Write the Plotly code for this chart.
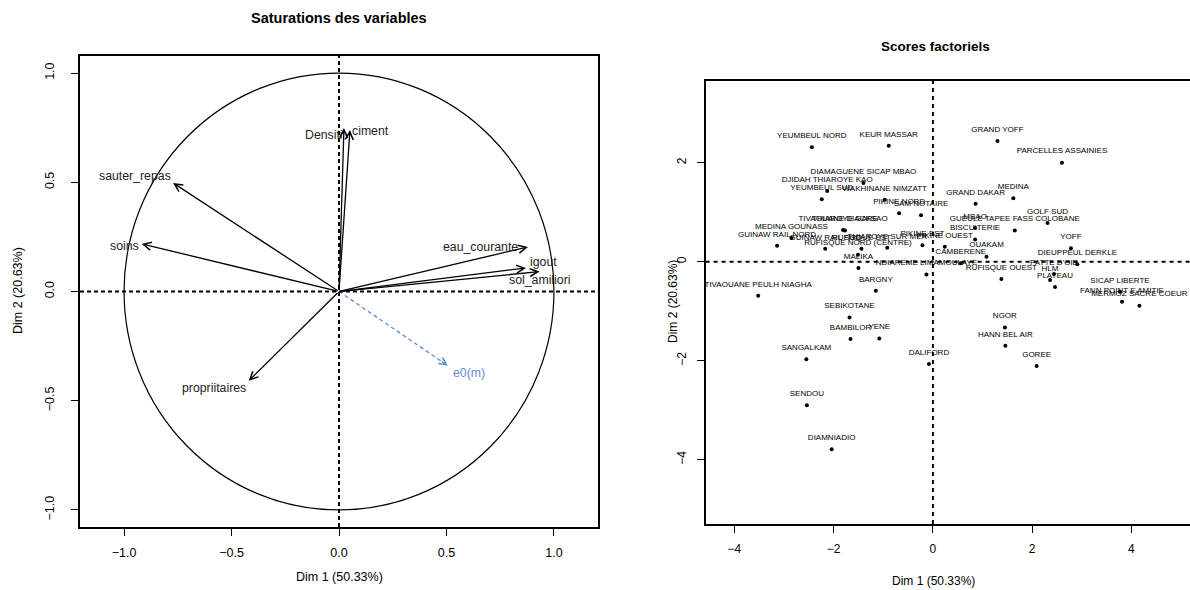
import plotly.graph_objects as go

# ---------------- data ----------------
var_names = ["Densiti", "ciment", "sauter_repas", "soins", "eau_courante",
             "igout", "sol_amiliori", "propriitaires"]
var_dim1 = [0.023, 0.051, -0.772, -0.918, 0.879, 0.870, 0.933, -0.420]
var_dim2 = [0.748, 0.739, 0.497, 0.218, 0.204, 0.108, 0.091, -0.409]

sup_names = ["e0(m)"]
sup_dim1 = [0.506]
sup_dim2 = [-0.339]

ind_names = [
    "GRAND YOFF", "PARCELLES ASSAINIES", "MEDINA", "GRAND DAKAR", "GOLF SUD",
    "GUEULE TAPEE FASS COLOBANE", "MBAO", "BISCUITERIE", "OUAKAM", "CAMBERENE",
    "YOFF", "DIEUPPEUL DERKLE", "PATTE D'OIE", "RUFISQUE OUEST", "HLM",
    "PLATEAU", "SICAP LIBERTE", "FANN POINT E AMITIE", "MERMOZ SACRE COEUR", "NGOR",
    "HANN BEL AIR", "GOREE", "DALIFORD", "NDIAREME LIMAMOULAYE", "MALIKA",
    "BARGNY", "TIVAOUANE PEULH NIAGHA", "SEBIKOTANE", "BAMBILOR", "YENE",
    "SANGALKAM", "SENDOU", "DIAMNIADIO", "YEUMBEUL NORD", "KEUR MASSAR",
    "DIAMAGUENE SICAP MBAO", "DJIDAH THIAROYE KAO", "YEUMBEUL SUD", "WAKHINANE NIMZATT", "PIKINE NORD",
    "SAM NOTAIRE", "TIVAOUANE DIACKSAO", "THIAROYE GARE", "MEDINA GOUNASS", "GUINAW RAIL NORD",
    "GUINAW RAIL SUD", "RUFISQUE EST", "THIAROYE SUR MER", "RUFISQUE NORD (CENTRE)", "PIKINE EST",
    "PIKINE OUEST",
]
ind_dim1 = [
    1.30, 2.60, 1.62, 0.86, 2.31,
    1.65, 0.85, 0.85, 1.08, 0.56,
    2.78, 2.91, 2.44, 1.38, 2.36,
    2.46, 3.77, 3.81, 4.16, 1.45,
    1.46, 2.09, -0.08, -0.13, -1.50,
    -1.15, -3.52, -1.68, -1.66, -1.08,
    -2.55, -2.54, -2.04, -2.44, -0.89,
    -1.40, -2.13, -2.24, -0.97, -0.68,
    -0.24, -1.81, -1.77, -2.85, -3.14,
    -2.17, -1.44, -0.92, -1.51, -0.21,
    0.24,
]
ind_dim2 = [
    2.44, 2.00, 1.28, 1.17, 0.78,
    0.63, 0.68, 0.45, 0.10, -0.03,
    0.27, -0.05, -0.25, -0.35, -0.37,
    -0.51, -0.61, -0.81, -0.89, -1.33,
    -1.70, -2.11, -2.07, -0.26, -0.13,
    -0.59, -0.69, -1.13, -1.56, -1.55,
    -1.97, -2.90, -3.79, 2.31, 2.34,
    1.59, 1.43, 1.26, 1.25, 0.98,
    0.94, 0.64, 0.63, 0.48, 0.32,
    0.26, 0.26, 0.28, 0.14, 0.33,
    0.30,
]

var_ticks = [-1.0, -0.5, 0.0, 0.5, 1.0]
ind_xticks = [-4, -2, 0, 2, 4]
ind_yticks = [-4, -2, 0, 2]

# ---------------- styling ----------------
FONT = "Liberation Sans, Arial, Helvetica, sans-serif"
W, H = 1190, 590
BLUE = "#5b8cd8"

# label offsets (pixels) for variable labels relative to arrow tips
var_label_shift = {
    "Densiti": (-20, -7), "ciment": (21, -1), "sauter_repas": (-38, 7),
    "soins": (-17, -2), "eau_courante": (-47, 0), "igout": (17, 6),
    "sol_amiliori": (0, -8), "propriitaires": (-35, -7),
}
sup_label_shift = {"e0(m)": (21, -7)}


def fmt(v, nd):
    s = f"{v:.{nd}f}"
    return s.replace("-", "\u2212")


fig = go.Figure()

# ---- left panel: supplementary dashed line ----
for n, a, b in zip(sup_names, sup_dim1, sup_dim2):
    fig.add_trace(go.Scatter(x=[0, a], y=[0, b], mode="lines",
                             line=dict(color=BLUE, width=1.3, dash="4px,3px"),
                             xaxis="x", yaxis="y", showlegend=False, hoverinfo="skip"))

# ---- right panel points ----
fig.add_trace(go.Scatter(
    x=ind_dim1, y=ind_dim2, mode="markers",
    marker=dict(size=4, color="black"),
    xaxis="x2", yaxis="y2", showlegend=False, hoverinfo="skip"))
# labels (transparent wider markers push the text a bit higher above the dots)
fig.add_trace(go.Scatter(
    x=ind_dim1, y=ind_dim2, mode="markers+text", text=ind_names,
    textposition="top center",
    textfont=dict(family=FONT, size=8, color="black"),
    marker=dict(size=10, color="rgba(0,0,0,0)"),
    xaxis="x2", yaxis="y2", showlegend=False, hoverinfo="text"))

annotations = []
# arrows for active variables
for n, a, b in zip(var_names, var_dim1, var_dim2):
    annotations.append(dict(x=a, y=b, ax=0, ay=0, xref="x", yref="y", axref="x", ayref="y",
                            text="", showarrow=True, arrowhead=5, arrowsize=1.2,
                            arrowwidth=1.3, arrowcolor="black"))
    dx, dy = var_label_shift[n]
    annotations.append(dict(x=a, y=b, xref="x", yref="y", text=n, showarrow=False,
                            xshift=dx, yshift=dy,
                            font=dict(family=FONT, size=12.3, color="#222222")))
# supplementary heads and labels
for n, a, b in zip(sup_names, sup_dim1, sup_dim2):
    annotations.append(dict(x=a, y=b, ax=a * 0.93, ay=b * 0.93, xref="x", yref="y",
                            axref="x", ayref="y", text="", showarrow=True, arrowhead=5,
                            arrowsize=1.2, arrowwidth=1.2, arrowcolor=BLUE))
    dx, dy = sup_label_shift[n]
    annotations.append(dict(x=a, y=b, xref="x", yref="y", text=n, showarrow=False,
                            xshift=dx, yshift=dy, font=dict(family=FONT, size=12.3, color=BLUE)))

# titles and axis titles
def paper_text(text, px, py, size, angle=0):
    return dict(text=text, x=px / W, y=1 - py / H, xref="paper", yref="paper",
                xanchor="center", yanchor="middle", showarrow=False, textangle=angle,
                font=dict(family=FONT, size=size, color="black"))


annotations += [
    paper_text("<b>Saturations des variables</b>", 339, 18, 14.5),
    paper_text("<b>Scores factoriels</b>", 935, 47, 13.5),
    paper_text("Dim 1 (50.33%)", 339, 577, 12.5),
    paper_text("Dim 1 (50.33%)", 933, 581, 12),
    paper_text("Dim 2 (20.63%)", 18, 291, 12.5, -90),
    paper_text("Dim 2 (20.63%)", 673, 302, 12, -90),
]

shapes = [
    dict(type="circle", xref="x", yref="y", x0=-1, y0=-1, x1=1, y1=1,
         line=dict(color="black", width=1.2), layer="below"),
    dict(type="line", xref="x", yref="y domain", x0=0, x1=0, y0=0, y1=1,
         line=dict(color="black", width=2, dash="4px,3px")),
    dict(type="line", xref="x domain", yref="y", x0=0, x1=1, y0=0, y1=0,
         line=dict(color="black", width=2, dash="4px,3px")),
    dict(type="line", xref="x2", yref="y2 domain", x0=0, x1=0, y0=0, y1=1,
         line=dict(color="black", width=2, dash="4px,4px")),
    dict(type="line", xref="x2 domain", yref="y2", x0=0, x1=1, y0=0, y1=0,
         line=dict(color="black", width=2, dash="4px,4px")),
]

axis_common = dict(showgrid=False, zeroline=False, showline=True, linecolor="black",
                   linewidth=1.5, ticks="outside", ticklen=7, tickwidth=1, tickcolor="black")

fig.update_layout(
    width=W, height=H, autosize=False,
    margin=dict(l=0, r=0, t=0, b=0),
    paper_bgcolor="white", plot_bgcolor="white",
    showlegend=False,
    xaxis=dict(domain=[80 / W, 598 / W], range=[-1.205, 1.205], anchor="y", mirror=True,
               tickvals=var_ticks, ticktext=[fmt(v, 1) for v in var_ticks],
               ticklabelstandoff=6, tickfont=dict(family=FONT, size=12.5, color="black"),
               **axis_common),
    yaxis=dict(domain=[(H - 527) / H, (H - 56) / H], range=[-1.078, 1.078], anchor="x", mirror=True,
               tickvals=var_ticks, ticktext=[fmt(v, 1) for v in var_ticks], tickangle=-90,
               ticklabelstandoff=12, tickfont=dict(family=FONT, size=12.5, color="black"),
               **axis_common),
    xaxis2=dict(domain=[705.6 / W, 1.0], range=[-4.58, 5.18], anchor="y2", mirror=True,
                tickvals=ind_xticks, ticktext=[fmt(v, 0) for v in ind_xticks],
                ticklabelstandoff=6, tickfont=dict(family=FONT, size=12, color="black"),
                **axis_common),
    yaxis2=dict(domain=[(H - 524) / H, (H - 81) / H], range=[-5.30, 3.65], anchor="x2", mirror=False,
                tickvals=ind_yticks, ticktext=[fmt(v, 0) for v in ind_yticks], tickangle=-90,
                ticklabelstandoff=6, tickfont=dict(family=FONT, size=12, color="black"),
                **axis_common),
    annotations=annotations,
    shapes=shapes,
)

fig.write_html("out.html", config={"displayModeBar": False},
               post_script="document.body.style.margin='0px';")
